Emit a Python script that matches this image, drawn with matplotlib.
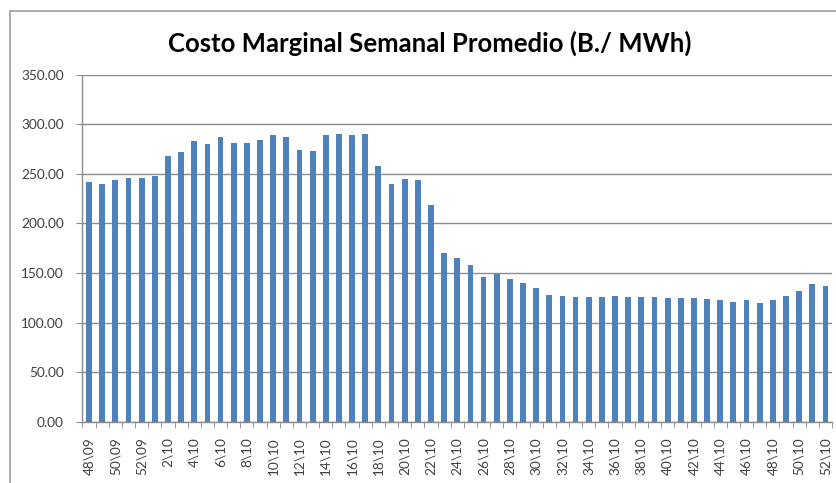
import matplotlib.pyplot as plt
from matplotlib.patches import Rectangle
from matplotlib.ticker import FixedLocator, NullFormatter

# Semanas: 48/09 .. 52/09 y 1/10 .. 52/10
weeks = [f"{w}\\09" for w in range(48, 53)] + [f"{w}\\10" for w in range(1, 53)]

# Costo marginal promedio semanal (B./ MWh)
costo = [242, 240, 244, 246, 246, 248, 268, 272, 283, 280,
         287, 281, 281, 284.5, 289, 287, 274, 273, 289, 290,
         289, 290, 258, 240, 245, 244, 218.5, 170, 165, 158,
         146.5, 149, 144, 139.5, 135, 128, 126.5, 125.5, 126, 126,
         127, 126, 126, 126, 124.5, 124.5, 124.5, 123.5, 122.5, 121,
         122.5, 120, 122.5, 127, 131.5, 139, 136.5]

yticks = [0, 50, 100, 150, 200, 250, 300, 350]

plt.rcParams['font.family'] = ['Lato', 'DejaVu Sans']

fig = plt.figure(figsize=(8.37, 4.83), dpi=100)
ax = fig.add_axes([82.5 / 837, 1 - 422 / 483, (832 - 82.5) / 837, (422 - 74.5) / 483])

# marco exterior del grafico
fig.patches.append(Rectangle((9.5 / 837, -0.05), 1.0, 1 - 10.5 / 483 + 0.05,
                             transform=fig.transFigure, fill=False,
                             edgecolor='#a6a6a6', lw=1.3))

x = range(len(costo))
ax.bar(x, costo, width=0.44, color='#4f81bd', zorder=3)

ax.set_xlim(-0.5, len(costo) - 0.5)
ax.set_ylim(0, 350)
ax.set_yticks(yticks)
ax.set_yticklabels([f"{v:.2f}" for v in yticks])
ax.yaxis.grid(True, color='#8c8c8c', lw=1.0, zorder=0)

ax.set_xticks(list(x)[::2])
ax.set_xticklabels(weeks[::2], rotation=90)
ax.xaxis.set_minor_locator(FixedLocator([i - 0.5 for i in range(len(costo) + 1)]))
ax.xaxis.set_minor_formatter(NullFormatter())
ax.tick_params(axis='x', which='major', length=0, pad=11)
ax.tick_params(axis='x', which='minor', length=4.5, color='#8c8c8c')
ax.tick_params(axis='y', length=4.5, color='#8c8c8c', pad=9)
ax.tick_params(labelsize=9.8, labelcolor='#404040')

for side in ['top', 'right']:
    ax.spines[side].set_visible(False)
for side in ['left', 'bottom']:
    ax.spines[side].set_color('#8c8c8c')
    ax.spines[side].set_linewidth(1.0)

fig.text(430 / 837, 1 - 43 / 483, "Costo Marginal Semanal Promedio (B./ MWh)",
         ha='center', va='center', fontsize=18.5, fontweight='bold', color='black')

fig.savefig("out.png", dpi=100)
